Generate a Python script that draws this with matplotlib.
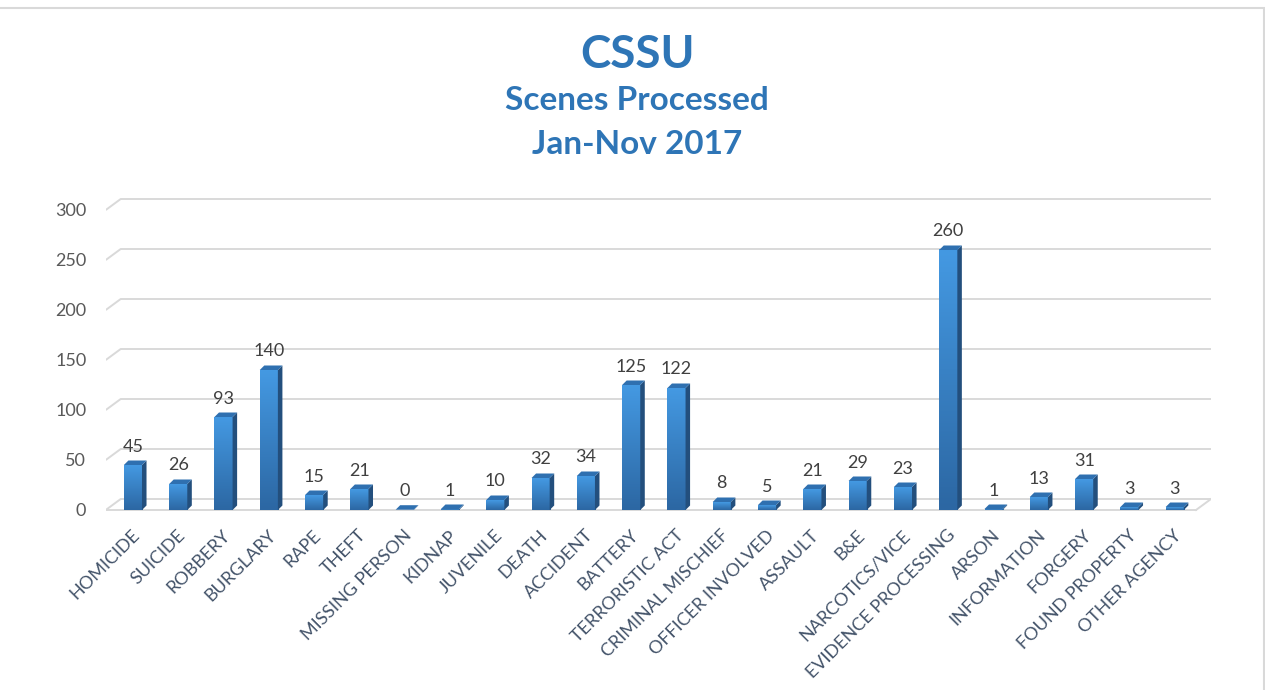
import matplotlib
matplotlib.use('Agg')
import matplotlib.pyplot as plt
import numpy as np
from matplotlib.patches import Polygon, Rectangle
from matplotlib.colors import LinearSegmentedColormap

# data
categories = ['HOMICIDE', 'SUICIDE', 'ROBBERY', 'BURGLARY', 'RAPE', 'THEFT',
              'MISSING PERSON', 'KIDNAP', 'JUVENILE', 'DEATH', 'ACCIDENT',
              'BATTERY', 'TERRORISTIC ACT', 'CRIMINAL MISCHIEF', 'OFFICER INVOLVED',
              'ASSAULT', 'B&E', 'NARCOTICS/VICE', 'EVIDENCE PROCESSING', 'ARSON',
              'INFORMATION', 'FORGERY', 'FOUND PROPERTY', 'OTHER AGENCY']
scenes = [45, 26, 93, 140, 15, 21, 0, 1, 10, 32, 34, 125, 122, 8, 5, 21, 29, 23,
          260, 1, 13, 31, 3, 3]
y_ticks = [0, 50, 100, 150, 200, 250, 300]
title_lines = ['CSSU', 'Scenes Processed', 'Jan-Nov 2017']

plt.rcParams['font.family'] = ['Lato', 'DejaVu Sans']

fig = plt.figure(figsize=(12.65, 6.9), dpi=100)
ax = fig.add_axes([0.0836, 1 - 527 / 690, 0.8737, 340 / 690])
ax.set_xlim(-0.6, 23.8)
ax.set_ylim(-17, 323)

title_blue = '#2E75B6'
grid_c = '#D9D9D9'
txt_c = '#44546A'

# back wall gridlines with slanted floor edge
bdx, bdy = 0.33, 11
for v in y_ticks:
    ax.plot([-0.6, -0.6 + bdx, 23.8], [v, v + bdy, v + bdy], color=grid_c, lw=1.4,
            zorder=1, solid_capstyle='butt')
ax.plot([-0.6, 23.47], [0, 0], color=grid_c, lw=1.4, zorder=1)
ax.plot([23.47, 23.8], [0, bdy], color=grid_c, lw=1.4, zorder=1)

# bars with pseudo 3d faces
w = 0.40
ddx, ddy = 0.10, 4.5
cmap = LinearSegmentedColormap.from_list('bar', ['#2C67A3', '#4499E2'])
grad = np.linspace(0, 1, 100).reshape(-1, 1)
x = np.arange(len(categories))
for xi, v in zip(x, scenes):
    x0, x1 = xi - w / 2, xi + w / 2
    h = max(v, 0.3)
    if v > 0:
        ax.imshow(grad, extent=[x0, x1, 0, h], origin='lower', cmap=cmap,
                  aspect='auto', zorder=3)
    side = Polygon([[x1, 0], [x1 + ddx, ddy], [x1 + ddx, h + ddy], [x1, h]],
                   closed=True, facecolor='#234F7D', edgecolor='none', zorder=3)
    top = Polygon([[x0, h], [x0 + ddx, h + ddy], [x1 + ddx, h + ddy], [x1, h]],
                  closed=True, facecolor='#2F70B0', edgecolor='none', zorder=4)
    ax.add_patch(side)
    ax.add_patch(top)
    ax.text(xi, h + ddy + 6, str(v), ha='center', va='bottom', fontsize=13,
            color='#404040', zorder=5)
    ax.text(xi - 0.03, -17, categories[xi],
            ha='right', va='top', rotation=45, rotation_mode='anchor',
            fontsize=13, color=txt_c)

ax.set_yticks(y_ticks)
ax.set_yticklabels([str(t) for t in y_ticks], fontsize=13, color='#595959')
ax.tick_params(axis='y', length=0, pad=14)
ax.set_xticks([])
for s in ax.spines.values():
    s.set_visible(False)

# title
ty = [55, 101, 145]
tsz = [33, 24, 24]
for line, yy, sz in zip(title_lines, ty, tsz):
    fig.text(0.5036, 1 - yy / 690, line, ha='center', va='center', fontsize=sz,
             fontweight='bold', color=title_blue)

# chart border
fig.patches.append(Rectangle((-0.01, -0.01), 1.009, 1 - 8 / 690 + 0.01,
                             transform=fig.transFigure, fill=False,
                             edgecolor=grid_c, lw=1.5))

fig.savefig('out.png', dpi=100)
